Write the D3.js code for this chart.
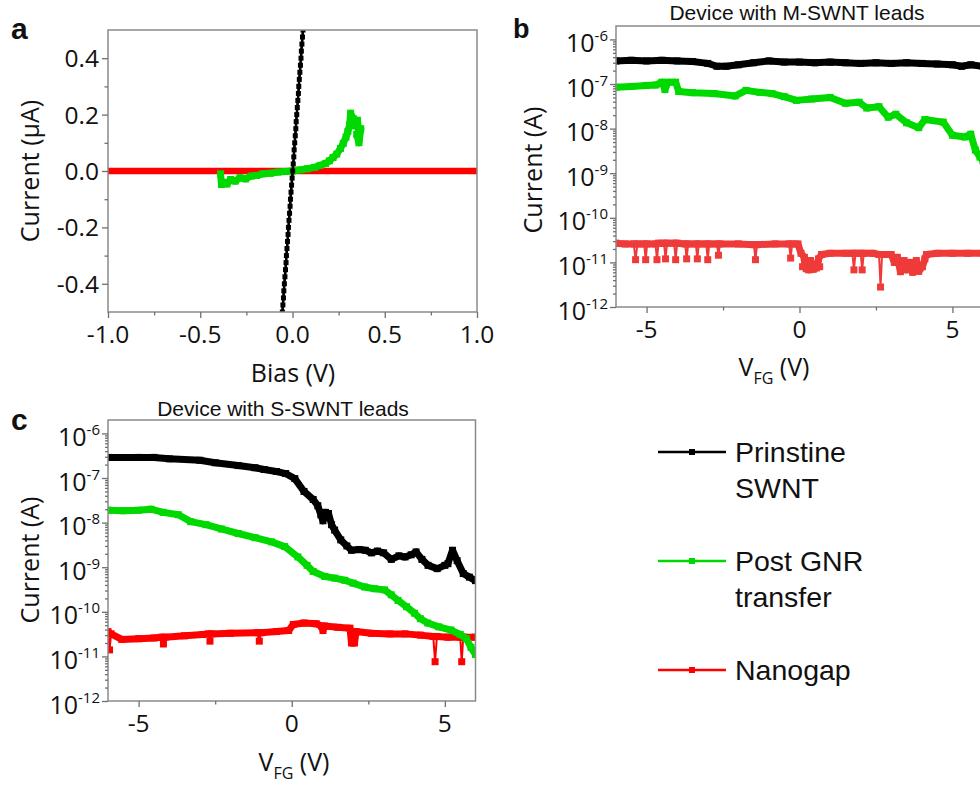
<!DOCTYPE html>
<html>
<head>
<meta charset="utf-8">
<script src="https://cdn.jsdelivr.net/npm/d3@7"></script>
<style>
  body { margin: 0; background: #fff; }
  svg { display: block; }
</style>
</head>
<body>
<svg id="fig" width="980" height="785"></svg>
<script>
// ---------- Panel a: I–V sweeps (bias in V, current in µA) ----------
const ivPristine = [
  [-0.055,-0.500],[-0.052,-0.475],[-0.049,-0.450],[-0.047,-0.425],[-0.044,-0.400],
  [-0.041,-0.375],[-0.038,-0.350],[-0.035,-0.325],[-0.033,-0.300],[-0.030,-0.275],
  [-0.027,-0.250],[-0.024,-0.225],[-0.022,-0.200],[-0.019,-0.175],[-0.016,-0.150],
  [-0.013,-0.125],[-0.011,-0.100],[-0.008,-0.075],[-0.005,-0.050],[-0.002,-0.025],
  [0.001,0.000],[0.004,0.025],[0.007,0.050],[0.009,0.075],[0.012,0.100],
  [0.015,0.125],[0.018,0.150],[0.020,0.175],[0.023,0.200],[0.026,0.225],
  [0.029,0.250],[0.032,0.275],[0.034,0.300],[0.037,0.325],[0.040,0.350],
  [0.043,0.375],[0.046,0.400],[0.048,0.425],[0.051,0.450],[0.054,0.475],[0.057,0.500]
];
const ivPostGNR = [
  [-0.390,-0.010],[-0.385,-0.048],[-0.370,-0.040],[-0.355,-0.046],[-0.335,-0.030],
  [-0.310,-0.036],[-0.285,-0.024],[-0.255,-0.028],[-0.225,-0.018],[-0.195,-0.016],
  [-0.160,-0.010],[-0.120,-0.008],[-0.080,-0.004],[-0.040,-0.002],[0.000,0.000],
  [0.040,0.004],[0.080,0.008],[0.120,0.013],[0.150,0.020],[0.180,0.027],
  [0.200,0.036],[0.220,0.048],[0.240,0.060],[0.260,0.080],[0.275,0.098],
  [0.290,0.120],[0.300,0.140],[0.310,0.165],[0.315,0.205],[0.330,0.185],
  [0.340,0.160],[0.352,0.180],[0.362,0.120],[0.370,0.150],[0.360,0.100],[0.348,0.130]
];
const ivNanogap = [
  [-1.0,0],[-0.9,0],[-0.8,0],[-0.7,0],[-0.6,0],[-0.5,0],[-0.4,0],[-0.3,0],[-0.2,0],[-0.1,0],
  [0.0,0],[0.1,0],[0.2,0],[0.3,0],[0.4,0],[0.5,0],[0.6,0],[0.7,0],[0.8,0],[0.9,0],[1.0,0]
];
const biasTicks = [-1, -0.5, 0, 0.5, 1];
const biasTickLabels = ["-1.0", "-0.5", "0.0", "0.5", "1.0"];
const biasMinor = [-0.75, -0.25, 0.25, 0.75];
const ivTicks = [-0.4, -0.2, 0, 0.2, 0.4];
const ivTickLabels = ["-0.4", "-0.2", "0.0", "0.2", "0.4"];
const ivMinor = [-0.3, -0.1, 0.1, 0.3];

// ---------- Panel b: gate sweeps, M-SWNT leads (V_FG in V, current in A) ----------
const mPristine = [
  [-6.0,3.3e-7],[-5.5,3.4e-7],[-5.0,3.3e-7],[-4.5,3.4e-7],[-4.0,3.3e-7],[-3.5,3.2e-7],
  [-3.0,2.9e-7],[-2.7,2.5e-7],[-2.4,2.5e-7],[-2.0,2.7e-7],[-1.5,3.0e-7],[-1.0,3.3e-7],
  [-0.5,3.1e-7],[0.0,3.1e-7],[0.5,3.0e-7],[1.0,3.1e-7],[1.5,3.0e-7],[2.0,2.9e-7],
  [2.5,3.0e-7],[3.0,2.9e-7],[3.5,3.0e-7],[4.0,2.9e-7],[4.5,2.8e-7],[5.0,2.7e-7],
  [5.3,2.5e-7],[5.6,2.7e-7],[6.0,2.5e-7]
];
const mPostGNR = [
  [-6.0,8.5e-8],[-5.5,8.8e-8],[-5.0,9.3e-8],[-4.7,9.5e-8],[-4.5,1.1e-7],[-4.4,7.5e-8],
  [-4.3,1.1e-7],[-4.05,1.1e-7],[-3.95,6.8e-8],[-3.5,6.4e-8],[-2.8,6.1e-8],[-2.1,5.4e-8],
  [-1.75,7.2e-8],[-1.3,6.5e-8],[-0.9,6.1e-8],[-0.5,5.2e-8],[-0.1,4.3e-8],[0.4,4.6e-8],
  [1.0,5.0e-8],[1.5,3.7e-8],[1.95,3.9e-8],[2.2,2.9e-8],[2.6,3.1e-8],[2.9,1.8e-8],
  [3.15,2.1e-8],[3.5,1.35e-8],[3.9,1.05e-8],[4.1,1.6e-8],[4.7,1.4e-8],[5.0,7.1e-9],
  [5.4,6.5e-9],[5.6,7.5e-9],[5.75,3.3e-9],[5.9,2.3e-9],[6.0,1.9e-9]
];
const mNanogap = [
  [-6.0,2.7e-11],[-5.7,2.6e-11],[-5.42,2.6e-11],[-5.36,1.15e-11],[-5.30,2.6e-11],
  [-5.08,2.6e-11],[-5.03,1.15e-11],[-4.98,2.6e-11],[-4.71,2.6e-11],[-4.66,1.15e-11],
  [-4.61,2.7e-11],[-4.43,2.7e-11],[-4.38,1.2e-11],[-4.33,2.7e-11],[-4.10,2.7e-11],
  [-4.05,1.15e-11],[-4.00,2.7e-11],[-3.74,2.6e-11],[-3.69,1.2e-11],[-3.64,2.6e-11],
  [-3.39,2.6e-11],[-3.34,1.2e-11],[-3.29,2.6e-11],[-3.05,2.6e-11],[-3.00,1.15e-11],
  [-2.95,2.6e-11],[-2.70,2.6e-11],[-2.65,1.45e-11],[-2.60,2.6e-11],[-2.0,2.6e-11],
  [-1.49,2.5e-11],[-1.44,1.15e-11],[-1.39,2.5e-11],[-0.8,2.6e-11],[-0.34,2.6e-11],
  [-0.29,1.25e-11],[-0.24,2.6e-11],[-0.05,2.6e-11],[0.05,1.6e-11],[0.1,8.0e-12],
  [0.16,1.3e-11],[0.22,7.2e-12],[0.3,6.8e-12],[0.36,1.1e-11],[0.45,7.0e-12],
  [0.55,7.5e-12],[0.62,1.2e-11],[0.66,8.0e-12],[0.72,1.5e-11],[1.0,1.6e-11],
  [1.5,1.6e-11],[1.73,1.6e-11],[1.78,6.8e-12],[1.83,1.6e-11],[2.0,1.6e-11],
  [2.05,6.8e-12],[2.1,1.6e-11],[2.4,1.6e-11],[2.6,1.5e-11],[2.65,2.8e-12],
  [2.7,1.5e-11],[3.0,1.5e-11],[3.1,1.0e-11],[3.2,1.3e-11],[3.3,6.2e-12],
  [3.42,1.1e-11],[3.5,6.8e-12],[3.6,1.0e-11],[3.7,6.0e-12],[3.82,1.1e-11],
  [3.9,6.3e-12],[4.02,8.0e-12],[4.1,1.2e-11],[4.15,1.5e-11],[4.5,1.6e-11],
  [5.0,1.6e-11],[5.5,1.6e-11],[6.0,1.6e-11]
];

// ---------- Panel c: gate sweeps, S-SWNT leads ----------
const sPristine = [
  [-6.0,2.9e-7],[-5.0,2.9e-7],[-4.5,2.9e-7],[-4.0,2.7e-7],[-3.0,2.5e-7],[-2.5,2.2e-7],
  [-1.75,1.9e-7],[-1.2,1.7e-7],[-0.9,1.55e-7],[-0.5,1.4e-7],[-0.2,1.26e-7],[0.1,9.7e-8],
  [0.4,5.0e-8],[0.7,3.3e-8],[0.85,2.4e-8],[0.95,1.5e-8],[1.02,1.1e-8],[1.1,1.7e-8],
  [1.2,1.6e-8],[1.3,9.0e-9],[1.4,6.8e-9],[1.6,4.1e-9],[1.8,3.0e-9],[1.95,2.4e-9],
  [2.2,2.5e-9],[2.4,2.4e-9],[2.6,2.1e-9],[2.8,2.3e-9],[3.0,2.1e-9],[3.25,1.5e-9],
  [3.5,1.8e-9],[3.7,1.7e-9],[3.9,1.9e-9],[4.06,2.2e-9],[4.25,1.5e-9],[4.45,1.1e-9],
  [4.75,9.3e-10],[5.0,1.1e-9],[5.1,1.2e-9],[5.25,2.4e-9],[5.4,1.4e-9],[5.6,7.2e-10],
  [5.8,6.0e-10],[6.0,5.0e-10]
];
const sPostGNR = [
  [-6.0,1.9e-8],[-5.5,1.85e-8],[-5.0,1.9e-8],[-4.6,2.0e-8],[-4.2,1.7e-8],[-3.7,1.5e-8],
  [-3.3,1.05e-8],[-2.8,9.0e-9],[-2.3,7.2e-9],[-1.75,5.7e-9],[-1.2,4.6e-9],[-0.66,3.7e-9],
  [-0.23,2.9e-9],[0.2,1.7e-9],[0.5,1.1e-9],[0.7,8.0e-10],[1.08,6.2e-10],[1.4,5.7e-10],
  [1.73,5.1e-10],[2.0,4.4e-10],[2.38,3.6e-10],[2.7,3.3e-10],[3.03,3.1e-10],[3.25,2.4e-10],
  [3.47,1.8e-10],[3.75,1.3e-10],[4.01,9.3e-11],[4.2,7.0e-11],[4.44,5.6e-11],[4.8,4.6e-11],
  [5.2,3.9e-11],[5.5,3.1e-11],[5.7,2.5e-11],[5.85,1.6e-11],[6.0,1.1e-11]
];
const sNanogap = [
  [-6.0,3.6e-11],[-5.95,1.4e-11],[-5.9,3.2e-11],[-5.55,2.4e-11],[-5.0,2.5e-11],
  [-4.5,2.6e-11],[-4.25,2.7e-11],[-4.19,1.9e-11],[-4.13,2.7e-11],[-3.5,2.9e-11],
  [-2.9,3.1e-11],[-2.72,3.2e-11],[-2.67,2.2e-11],[-2.62,3.2e-11],[-2.0,3.3e-11],
  [-1.12,3.4e-11],[-1.06,2.2e-11],[-1.0,3.4e-11],[-0.5,3.6e-11],[-0.1,3.8e-11],
  [0.05,5.2e-11],[0.4,5.6e-11],[0.8,5.4e-11],[0.97,4.8e-11],[1.02,3.8e-11],
  [1.07,4.8e-11],[1.5,4.5e-11],[1.9,4.3e-11],[1.95,2.0e-11],[2.05,2.0e-11],
  [2.1,3.6e-11],[2.6,3.3e-11],[3.2,3.2e-11],[3.7,3.2e-11],[4.2,3.0e-11],
  [4.62,2.8e-11],[4.68,7.6e-12],[4.74,2.8e-11],[5.1,2.7e-11],[5.5,2.7e-11],
  [5.55,7.6e-12],[5.6,2.7e-11],[6.0,2.7e-11]
];

const gateTicks = [-5, 0, 5];
const gateTickLabels = ["-5", "0", "5"];
const gateMinor = [-2.5, 2.5];
const decadeExps = [-12, -11, -10, -9, -8, -7, -6];

// ---------- Legend ----------
const legendNames = [["Prinstine", "SWNT"], ["Post GNR", "transfer"], ["Nanogap"]];
const legendColors = ["#000000", "#00d900", "#ff0000"];

// ---------- drawing ----------
const svg = d3.select("#fig");
svg.append("rect").attr("width", 980).attr("height", 785).attr("fill", "#fff");

const AX_FONT = "'Open Sans', 'DejaVu Sans', sans-serif";
const TXT_FONT = "'Liberation Sans', Arial, sans-serif";
const FRAME = "#8a8a8a";
const TICK = "#6f6f6f";
let clipId = 0;

function frame(g, x, y) {
  const [x0, x1] = x.range(), [y0, y1] = y.range();
  g.append("rect")
    .attr("x", x0).attr("y", y1).attr("width", x1 - x0).attr("height", y0 - y1)
    .attr("fill", "none").attr("stroke", FRAME).attr("stroke-width", 1.5);
}

function tickSet(g, axis, pos) {
  const a = g.append("g").attr("transform", pos).call(axis);
  a.select(".domain").remove();
  a.selectAll("line").attr("stroke", TICK).attr("stroke-width", 1.3);
}

function xAxis(g, x, y, major, labels, minor) {
  const y0 = y.range()[0];
  tickSet(g, d3.axisBottom(x).tickValues(major).tickSize(6).tickSizeOuter(0).tickFormat(""), `translate(0,${y0})`);
  tickSet(g, d3.axisBottom(x).tickValues(minor).tickSize(3.5).tickSizeOuter(0).tickFormat(""), `translate(0,${y0})`);
  g.selectAll(null).data(major).join("text")
    .attr("x", d => x(d)).attr("y", y0 + 31)
    .attr("text-anchor", "middle")
    .attr("font-family", AX_FONT).attr("font-size", 24.5).attr("fill", "#111")
    .text((d, i) => labels[i]);
}

function yAxisLinear(g, x, y, major, labels, minor) {
  const x0 = x.range()[0];
  tickSet(g, d3.axisLeft(y).tickValues(major).tickSize(6).tickSizeOuter(0).tickFormat(""), `translate(${x0},0)`);
  tickSet(g, d3.axisLeft(y).tickValues(minor).tickSize(3.5).tickSizeOuter(0).tickFormat(""), `translate(${x0},0)`);
  g.selectAll(null).data(major).join("text")
    .attr("x", x0 - 9).attr("y", d => y(d) + 9)
    .attr("text-anchor", "end")
    .attr("font-family", AX_FONT).attr("font-size", 24.5).attr("fill", "#111")
    .text((d, i) => labels[i]);
}

function yAxisLog(g, x, y, exps) {
  const x0 = x.range()[0];
  const top = y.domain()[1];
  const major = exps.map(e => Math.pow(10, e));
  const minor = [];
  exps.forEach(e => { for (let k = 2; k <= 9; k++) { const v = k * Math.pow(10, e); if (v < top) minor.push(v); } });
  tickSet(g, d3.axisLeft(y).tickValues(major).tickSize(6).tickSizeOuter(0).tickFormat(""), `translate(${x0},0)`);
  tickSet(g, d3.axisLeft(y).tickValues(minor).tickSize(3).tickSizeOuter(0).tickFormat(""), `translate(${x0},0)`);
  const t = g.selectAll(null).data(exps).join("text")
    .attr("x", x0 - 8).attr("y", e => y(Math.pow(10, e)) + 12.5)
    .attr("text-anchor", "end")
    .attr("font-family", AX_FONT).attr("font-size", 25).attr("fill", "#111");
  t.append("tspan").text("10");
  t.append("tspan").attr("dy", -11).attr("font-size", 15).text(e => String(e));
}

// A trace: thin connecting line through every reading, a thick band through the
// regular readings, and a square marker on each reading. With `dropsThin`, isolated
// one-point dips stay as thin drop lines instead of being swallowed by the band.
function series(g, x, y, pts, color, lw, ms, dropsThin) {
  const line = d3.line().x(d => x(d[0])).y(d => y(d[1]));
  const isDrop = (d, i) => {
    if (!dropsThin || i === 0 || i === pts.length - 1) return false;
    const a = pts[i - 1], b = pts[i + 1];
    return d[0] - a[0] < 0.09 && b[0] - d[0] < 0.09 && a[1] > d[1] * 1.3 && b[1] > d[1] * 1.3;
  };
  const band = pts.filter((d, i) => !isDrop(d, i));
  g.append("path").datum(pts).attr("d", line)
    .attr("fill", "none").attr("stroke", color).attr("stroke-width", 2);
  g.append("path").datum(band).attr("d", line)
    .attr("fill", "none").attr("stroke", color).attr("stroke-width", lw)
    .attr("stroke-linejoin", "round");
  g.selectAll(null).data(pts).join("rect")
    .attr("x", d => x(d[0]) - ms / 2).attr("y", d => y(d[1]) - ms / 2)
    .attr("width", ms).attr("height", ms).attr("fill", color);
}

function plotArea(g, x, y) {
  const id = "clip" + (clipId++);
  const [x0, x1] = x.range(), [y0, y1] = y.range();
  g.append("clipPath").attr("id", id).append("rect")
    .attr("x", x0).attr("y", y1).attr("width", x1 - x0).attr("height", y0 - y1);
  return g.append("g").attr("clip-path", `url(#${id})`);
}

function panelLetter(txt, px, py, size) {
  svg.append("text").attr("x", px).attr("y", py)
    .attr("font-family", TXT_FONT).attr("font-weight", "bold").attr("font-size", size)
    .attr("fill", "#111").text(txt);
}

function yTitle(txt, px, py) {
  svg.append("text").attr("transform", `translate(${px},${py}) rotate(-90)`)
    .attr("text-anchor", "middle").attr("font-family", AX_FONT).attr("font-size", 25)
    .attr("fill", "#111").text(txt);
}

function gateTitle(px, py) {
  const t = svg.append("text").attr("x", px).attr("y", py).attr("text-anchor", "middle")
    .attr("font-family", AX_FONT).attr("font-size", 25).attr("fill", "#111");
  t.append("tspan").text("V");
  t.append("tspan").attr("dy", 8).attr("font-size", 16).text("FG");
  t.append("tspan").attr("dy", -8).text(" (V)");
}

function plotTitle(txt, px, py) {
  svg.append("text").attr("x", px).attr("y", py).attr("text-anchor", "middle")
    .attr("font-family", TXT_FONT).attr("font-size", 21).attr("fill", "#111").text(txt);
}

// Panel a
{
  const x = d3.scaleLinear().domain([-1, 1]).range([108, 477]);
  const y = d3.scaleLinear().domain([-0.5, 0.5]).range([312, 30]);
  const g = svg.append("g");
  const area = plotArea(g, x, y);
  series(area, x, y, ivNanogap, "#ff0000", 6.5, 6, false);
  series(area, x, y, ivPostGNR, "#00d900", 7, 7, false);
  series(area, x, y, ivPristine, "#000000", 2.5, 5, false);
  frame(g, x, y);
  xAxis(g, x, y, biasTicks, biasTickLabels, biasMinor);
  yAxisLinear(g, x, y, ivTicks, ivTickLabels, ivMinor);
  panelLetter("a", 11, 39, 30);
  yTitle("Current (µA)", 39, 171);
  svg.append("text").attr("x", 293).attr("y", 382).attr("text-anchor", "middle")
    .attr("font-family", AX_FONT).attr("font-size", 25).attr("fill", "#111").text("Bias (V)");
}

// Panel b
{
  const x = d3.scaleLinear().domain([-6, 6]).range([616, 983]);
  const y = d3.scaleLog().domain([1e-12, 2e-6]).range([307, 26]);
  const g = svg.append("g");
  const area = plotArea(g, x, y);
  series(area, x, y, mNanogap, "#ef3a3a", 7, 7, true);
  series(area, x, y, mPostGNR, "#00d900", 7, 7, false);
  series(area, x, y, mPristine, "#000000", 7, 7, false);
  frame(g, x, y);
  xAxis(g, x, y, gateTicks, gateTickLabels, gateMinor);
  yAxisLog(g, x, y, decadeExps);
  panelLetter("b", 513, 38, 27);
  yTitle("Current (A)", 542, 170);
  gateTitle(774, 376);
  plotTitle("Device with M-SWNT leads", 797, 20);
}

// Panel c
{
  const x = d3.scaleLinear().domain([-6, 6]).range([108, 475.5]);
  const y = d3.scaleLog().domain([1e-12, 2e-6]).range([701, 420]);
  const g = svg.append("g");
  const area = plotArea(g, x, y);
  series(area, x, y, sNanogap, "#ff0000", 7, 7, true);
  series(area, x, y, sPostGNR, "#00d900", 7, 7, false);
  series(area, x, y, sPristine, "#000000", 7, 7, false);
  frame(g, x, y);
  xAxis(g, x, y, gateTicks, gateTickLabels, gateMinor);
  yAxisLog(g, x, y, decadeExps);
  panelLetter("c", 11, 430, 30);
  yTitle("Current (A)", 39, 560);
  gateTitle(294, 771);
  plotTitle("Device with S-SWNT leads", 283, 416);
}

// Legend
{
  const rowY = d3.scalePoint().domain(d3.range(legendNames.length)).range([452, 670]);
  const lg = svg.append("g");
  legendNames.forEach((lines, i) => {
    const yy = rowY(i);
    lg.append("line").attr("x1", 658).attr("x2", 726).attr("y1", yy).attr("y2", yy)
      .attr("stroke", legendColors[i]).attr("stroke-width", 2.5);
    lg.append("rect").attr("x", 689).attr("y", yy - 3).attr("width", 6).attr("height", 6)
      .attr("fill", legendColors[i]);
    lines.forEach((s, j) => {
      lg.append("text").attr("x", 735).attr("y", yy + 10 + j * 36)
        .attr("font-family", TXT_FONT).attr("font-size", 28.5).attr("fill", "#111").text(s);
    });
  });
}
</script>
</body>
</html>
